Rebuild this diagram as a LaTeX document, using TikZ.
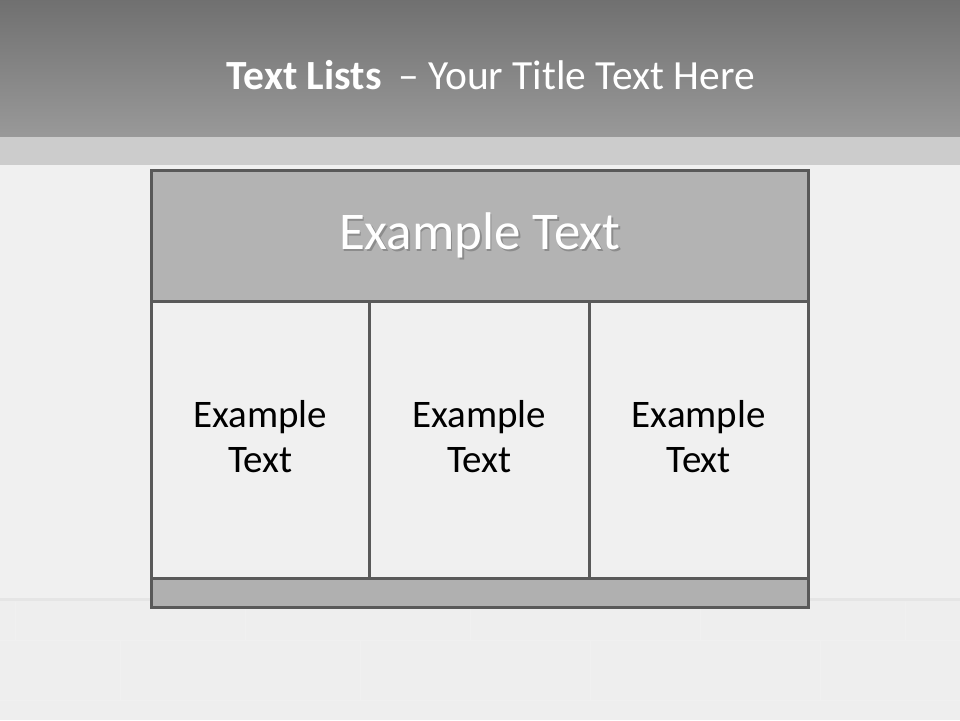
\documentclass[tikz,border=0pt]{standalone}
\usepackage{fontspec}
\setmainfont{Carlito}
\usetikzlibrary{positioning}
\definecolor{framegray}{HTML}{595959}
\definecolor{headgray}{HTML}{B3B3B3}
\definecolor{cellgray}{HTML}{F0F0F0}
\definecolor{wallgray}{HTML}{EEEEEE}
\definecolor{stripgray}{HTML}{CCCCCC}
\tikzset{
    cell/.style={draw=framegray, line width=2.6pt, fill=cellgray, inner sep=0pt, anchor=north west},
    celltext/.style={align=center, font=\fontsize{39}{45}\selectfont, text=black},
}
\begin{document}
\begin{tikzpicture}[x=1pt, y=-1pt]
    \useasboundingbox (0,0) rectangle (960,720);

    %Background: title bar, strip, wall
    \shade[top color=black!56, bottom color=black!40] (0,0) rectangle (960,137);
    \fill[stripgray] (0,137) rectangle (960,165);
    \fill[cellgray] (0,165) rectangle (960,598);
    \fill[wallgray] (0,598) rectangle (960,720);
    \fill[black!10] (0,598) rectangle (960,601);
    % faint brick joints
    \draw[black!6, line width=1pt] (0,640) -- (960,640);
    \draw[black!6, line width=1pt] (0,700) -- (960,700);
    \foreach \x in {15,245,470,700,905} {
        \draw[black!6, line width=1pt] (\x,602) -- (\x,640);
    }
    \foreach \x in {120,360,590,820} {
        \draw[black!6, line width=1pt] (\x,640) -- (\x,700);
    }

    %Title
    \node (title) at (491,75) [text=white, font=\fontsize{41.5}{48}\selectfont] {\textbf{Text Lists}\, – Your Title Text Here};

    %Table: header, three columns, footer
    \node (header) at (150,169) [cell, fill=headgray, minimum width=657pt, minimum height=131pt] {};
    \node (col1) at (150,300) [cell, minimum width=218pt, minimum height=277pt] {};
    \node (col2) at (368,300) [cell, minimum width=220pt, minimum height=277pt] {};
    \node (col3) at (588,300) [cell, minimum width=219pt, minimum height=277pt] {};
    \node (footer) at (150,577) [cell, fill=black!31, minimum width=657pt, minimum height=29pt] {};

    %Texts
    \node (headshadow) at ([xshift=1.5pt, yshift=-1.5pt]header.center) [text=black!45, font=\fontsize{53}{58}\selectfont] {Example Text};
    \node (headtext) at (header.center) [text=white, font=\fontsize{53}{58}\selectfont] {Example Text};
    \node (text1) at ([yshift=3pt]col1.center) [celltext] {Example\\Text};
    \node (text2) at ([yshift=3pt]col2.center) [celltext] {Example\\Text};
    \node (text3) at ([yshift=3pt]col3.center) [celltext] {Example\\Text};
\end{tikzpicture}
\end{document}
